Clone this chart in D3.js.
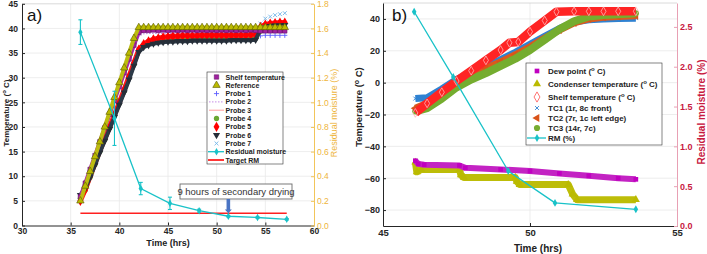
<!DOCTYPE html>
<html>
<head>
<meta charset="utf-8">
<script src="https://cdn.jsdelivr.net/npm/d3@7"></script>
<style>
  body { margin: 0; background: #fff; }
</style>
</head>
<body>
<div id="chart"></div>
<script>
// ---------------- data: panel a ----------------
const timeA = [36,36.5,37,37.5,38,38.5,39,39.5,40,40.5,41,41.5,42,42.5,43,43.5,44,44.5,45,45.5,46,46.5,47,47.5,48,48.5,49,49.5,50,50.5,51,51.5,52,52.5,53,53.5,54,54.5,55,55.5,56,56.5,57];
const shelfA = [5.8,8.6,11.4,14.2,17.0,19.8,22.6,25.4,28.2,31.0,33.8,36.6,39.2,39.6,
  39.6,39.7,39.6,39.7,39.6,39.7,39.6,39.7,39.6,39.7,39.6,39.7,39.6,39.7,39.6,39.7,39.6,39.7,39.6,39.7,39.6,39.7,39.6,
  39.5,39.5,39.5,39.5,39.5,39.5];
const referenceA = [5.0,8.0,11.0,14.0,17.0,20.0,23.0,26.0,29.0,32.0,35.0,38.0,40.2,
  40.2,40.2,40.2,40.2,40.2,40.2,40.2,40.2,40.2,40.2,
  40.2,40.2,40.2,40.2,40.2,40.2,40.2,40.2,40.2,40.2,
  40.2,40.2,40.2,40.2,40.2,40.2,40.2,40.2,40.2,40.2];
const probe1 = [5.5,7.5,10.0,12.5,15.0,17.5,20.0,22.5,25.0,27.7,30.4,33.1,35.8,
  36.8,37.3,37.6,37.8,38.0,38.1,
  38.2,38.2,38.2,38.2,38.2,38.2,38.2,38.2,38.2,38.2,38.2,38.2,38.2,38.2,38.2,38.2,38.2,38.2,
  38.5,38.6,38.6,38.6,38.6,38.6];
const probe2 = [5.6,8.2,11.0,13.8,16.6,19.3,22.0,24.8,27.6,30.4,33.2,36.0,38.5,38.9,
  39.0,39.0,39.0,39.0,39.0,39.0,39.0,39.0,39.0,39.0,39.0,39.0,39.0,39.0,39.0,39.0,39.0,39.0,39.0,39.0,39.0,39.0,39.0,
  39.2,39.2,39.2,39.2,39.2,39.2];
const probe3 = [5.2,7.5,10.2,12.8,15.4,17.8,20.2,22.7,25.2,27.8,30.5,33.2,35.9,
  37.0,37.6,38.0,38.3,38.5,38.6,
  38.7,38.7,38.7,38.7,38.7,38.7,38.7,38.7,38.7,38.7,38.7,38.7,38.7,38.7,38.7,38.7,38.7,38.7,
  40.0,40.4,40.4,40.4,40.4,40.4];
const probe4 = [5.5,7.2,9.8,12.4,15.0,17.4,19.8,22.3,24.8,27.3,30.0,32.7,35.5,
  36.5,37.0,37.4,37.6,37.8,37.9,
  38.0,38.0,38.0,38.0,38.0,38.0,38.0,38.0,38.0,38.0,38.0,38.0,38.0,38.0,38.0,38.0,38.0,38.0,
  39.5,39.9,40.0,40.1,40.1,40.2];
const probe5 = [5.0,7.3,10.0,12.6,15.2,17.6,20.0,22.5,25.0,27.6,30.3,33.0,35.7,
  36.8,37.4,37.8,38.0,38.2,38.3,
  38.4,38.4,38.5,38.5,38.5,38.5,
  38.6,38.6,38.6,38.6,38.6,38.6,38.6,38.6,38.6,38.6,
  38.7,38.7,
  40.3,40.8,41.0,41.1,41.2,41.2];
const probe6 = [6.2,7.6,9.8,12.3,14.8,17.2,19.6,22.0,24.5,27.0,29.6,32.4,35.2,
  36.2,36.6,36.9,37.1,37.2,37.3,
  37.3,37.4,37.4,37.4,
  37.5,37.5,37.5,37.5,37.5,37.5,37.5,37.5,
  37.6,37.6,37.6,37.6,37.6,37.7,
  39.8,40.3,40.5,40.6,40.6,40.7];
const probe7 = [5.4,7.6,10.1,12.7,15.3,17.7,20.1,22.6,25.1,27.7,30.4,33.1,35.8,
  36.9,37.4,37.7,37.9,38.0,38.1,
  38.2,38.2,38.2,38.2,38.2,38.2,38.2,38.2,38.2,38.2,38.2,38.2,38.2,38.2,38.2,38.2,38.2,38.2,
  41.0,42.0,42.4,42.7,42.9,43.1];

const rmTimeA = [36.0,39.5,42.2,45.2,48.2,51.2,54.2,57.2];
const rmA = [1.57,0.87,0.30,0.18,0.12,0.075,0.065,0.05];
const rmErrA = [0.10,0.22,0.05,0.05,0.012,0.006,0.006,0.006];
const targetTimeA = [36,57.2];
const targetRmA = [0.1,0.1];

const xTicksA = [30,35,40,45,50,55,60];
const tempTicksA = [0,5,10,15,20,25,30,35,40,45];
const rmTicksA = [0,0.2,0.4,0.6,0.8,1,1.2,1.4,1.6,1.8];

// ---------------- data: panel b ----------------
const dewTimeB = [46.1,46.2,46.4,47.6,47.8,49.0,50.0,51.0,52.0,53.0,53.6];
const dewB = [-49,-51,-51.5,-52,-53.5,-54.5,-55.5,-57,-58.5,-60,-60.7];
const condTimeB = [46.1,46.15,46.3,47.6,47.65,47.75,49.5,49.55,49.65,51.3,51.45,51.6,53.6];
const condB = [-50,-56,-54.5,-54.5,-58,-59.5,-59.5,-62,-64,-64,-70,-73.5,-73.5];
const shelfTimeB = [46.1,46.5,47.0,47.5,48.0,48.5,49.0,49.3,49.6,50.0,50.5,50.9,51.5,52.0,52.5,53.0,53.6];
const shelfB = [-19,-13,-6,1,7.5,14,20.5,25,25.5,32,39,44.5,44.8,44.8,44.8,44.8,44.8];
const tcTimeB = [46.1,46.5,47.0,47.5,48.0,48.5,49.0,49.5,50.0,50.5,51.0,51.5,52.0,52.5,53.0,53.6];
const tc1B = [-10,-9.5,-4,2,6,10,14.5,19,24,29,34,38,39.5,40,40.3,40.5];
const tc2B = [-16,-13,-6,1,5,9,13,17.5,22.5,28,33,37.5,40,41,41.5,42];
const tc3B = [-18,-16,-10,-3,2,6,10.5,15,20.5,27,33.5,38.5,41.5,42.5,43,43.5];
const rmTimeB = [46.06,47.39,49.26,50.85,53.6];
const rmB = [2.69,1.87,0.69,0.29,0.21];

const xTicksB = [45,50,55];
const tempTicksB = [-80,-60,-40,-20,0,20,40];
const rmTicksB = [0,0.5,1,1.5,2,2.5];

// ---------------- setup ----------------
const FONT = '"Liberation Sans", Arial, sans-serif';
const svg = d3.select("#chart").append("svg")
  .attr("width", 707).attr("height", 254)
  .style("font-family", FONT);

const plusSym = { draw(c, s) { const r = Math.sqrt(s) / 2; c.moveTo(-r, 0); c.lineTo(r, 0); c.moveTo(0, -r); c.lineTo(0, r); } };
const timesSym = { draw(c, s) { const r = Math.sqrt(s) * 0.38; c.moveTo(-r, -r); c.lineTo(r, r); c.moveTo(-r, r); c.lineTo(r, -r); } };
const SYM = { square: d3.symbolSquare, triangle: d3.symbolTriangle, diamond: d3.symbolDiamond, circle: d3.symbolCircle, plus: plusSym, times: timesSym };

function marker(g, x, y, m) {
  g.append("path")
    .attr("d", d3.symbol(SYM[m.shape], m.size)())
    .attr("transform", `translate(${x},${y}) rotate(${m.rotate || 0})`)
    .attr("fill", m.fill || "none")
    .attr("stroke", m.stroke || "none")
    .attr("stroke-width", m.sw || 0.8);
}

function supText(sel, label, supSize) {
  const parts = label.split("^o");
  parts.forEach((p, i) => {
    if (i > 0) sel.append("tspan").attr("dy", -3).attr("font-size", supSize).text("o");
    sel.append("tspan").attr("dy", i > 0 ? 3 : 0).text(p);
  });
}

function styleAxis(g, lineColor, textColor, size) {
  g.attr("font-family", FONT);
  g.select(".domain").attr("stroke", lineColor);
  g.selectAll(".tick line").attr("stroke", lineColor);
  g.selectAll(".tick text").attr("fill", textColor).attr("font-size", size).attr("font-weight", "bold");
}

// draw one series: a band (line) and markers on each value
function drawSeries(g, xs, ys, times, vals, s) {
  const pts = times.map((t, i) => [t, vals[i]]).filter(d => d[1] !== undefined);
  const line = d3.line().x(d => xs(d[0])).y(d => ys(d[1]));
  if (s.band) {
    g.append("path").datum(pts).attr("d", line)
      .attr("fill", "none").attr("stroke", s.band)
      .attr("stroke-width", s.width).attr("stroke-linejoin", "round")
      .attr("stroke-dasharray", s.dash || null);
  }
  if (s.marker) {
    const mg = g.append("g");
    pts.forEach(d => marker(mg, xs(d[0]), ys(d[1]), s.plotMarker || s.marker));
  }
}

// ================= panel a =================
const xA = d3.scaleLinear().domain([30, 60]).range([22, 314]);
const yA = d3.scaleLinear().domain([0, 45]).range([225.5, 3.8]);
const yA2 = d3.scaleLinear().domain([0, 1.8]).range([225.5, 3.8]);
const gA = svg.append("g");

// grid
gA.selectAll(".vgrid").data(xTicksA.slice(1, -1)).enter().append("line")
  .attr("x1", d => xA(d)).attr("x2", d => xA(d)).attr("y1", yA(45)).attr("y2", yA(0))
  .attr("stroke", "#e8e8e8").attr("stroke-width", 0.8);
gA.selectAll(".hgrid").data(tempTicksA.slice(1, -1)).enter().append("line")
  .attr("x1", xA(30)).attr("x2", xA(60)).attr("y1", d => yA(d)).attr("y2", d => yA(d))
  .attr("stroke", "#e8e8e8").attr("stroke-width", 0.8);
gA.append("line").attr("x1", xA(30)).attr("x2", xA(60)).attr("y1", yA(45)).attr("y2", yA(45))
  .attr("stroke", "#d0d0d0").attr("stroke-width", 0.8);

const seriesA = [
  { name: "Shelf temperature", vals: shelfA, band: "#a52aa5", width: 4, z: 6,
    marker: { shape: "square", size: 20, fill: "#a020a0", stroke: "#5c125c", sw: 0.5 } },
  { name: "Reference", vals: referenceA, band: "#bcbc10", width: 4, z: 7,
    marker: { shape: "triangle", size: 24, fill: "#baba00", stroke: "#5a5a00", sw: 0.6 } },
  { name: "Probe 1", vals: probe1, band: null, z: 1,
    marker: { shape: "plus", size: 26, stroke: "#5c5cff", sw: 0.9 } },
  { name: "Probe 2", vals: probe2, band: "#c58ce6", width: 1.2, dash: "1.5,1.5", z: 2, line: true },
  { name: "Probe 3", vals: probe3, band: "#ff9d9d", width: 1.2, z: 2, line: true },
  { name: "Probe 4", vals: probe4, band: "#6aa832", width: 4, z: 3,
    marker: { shape: "circle", size: 22, fill: "#6aa832" } },
  { name: "Probe 5", vals: probe5, band: "#ff1a1a", width: 5, z: 4,
    marker: { shape: "diamond", size: 30, fill: "#ff0000" } },
  { name: "Probe 6", vals: probe6, band: "#2c3a48", width: 4, z: 5,
    marker: { shape: "triangle", size: 22, fill: "#262e38", rotate: 180 } },
  { name: "Probe 7", vals: probe7, band: null, z: 1,
    marker: { shape: "times", size: 26, stroke: "#72b5e8", sw: 0.9 } }
];

const plotA = gA.append("g");
seriesA.slice().sort((a, b) => a.z - b.z).forEach(s => drawSeries(plotA, xA, yA, timeA, s.vals, s));

// target RM
plotA.append("path").datum(targetTimeA.map((t, i) => [t, targetRmA[i]]))
  .attr("d", d3.line().x(d => xA(d[0])).y(d => yA2(d[1])))
  .attr("stroke", "#ff2020").attr("stroke-width", 1.6).attr("fill", "none");

// residual moisture with error bars
const rmColor = "#19c2c8";
const rmPts = rmTimeA.map((t, i) => ({ t, v: rmA[i], e: rmErrA[i] }));
plotA.append("path").datum(rmPts)
  .attr("d", d3.line().x(d => xA(d.t)).y(d => yA2(d.v)))
  .attr("stroke", rmColor).attr("stroke-width", 1.3).attr("fill", "none");
const eb = plotA.selectAll(".eb").data(rmPts).enter().append("g");
eb.append("line").attr("x1", d => xA(d.t)).attr("x2", d => xA(d.t))
  .attr("y1", d => yA2(d.v - d.e)).attr("y2", d => yA2(d.v + d.e))
  .attr("stroke", rmColor).attr("stroke-width", 1.1);
eb.append("line").attr("x1", d => xA(d.t) - 2).attr("x2", d => xA(d.t) + 2)
  .attr("y1", d => yA2(d.v - d.e)).attr("y2", d => yA2(d.v - d.e))
  .attr("stroke", rmColor).attr("stroke-width", 1.1);
eb.append("line").attr("x1", d => xA(d.t) - 2).attr("x2", d => xA(d.t) + 2)
  .attr("y1", d => yA2(d.v + d.e)).attr("y2", d => yA2(d.v + d.e))
  .attr("stroke", rmColor).attr("stroke-width", 1.1);
rmPts.forEach(d => marker(plotA, xA(d.t), yA2(d.v), { shape: "diamond", size: 16, fill: rmColor }));

// axes
const axLA = gA.append("g").attr("transform", `translate(${xA(30)},0)`)
  .call(d3.axisLeft(yA).tickValues(tempTicksA).tickSizeInner(-3).tickSizeOuter(0).tickPadding(4));
styleAxis(axLA, "#262626", "#262626", 8.5);
const axBA = gA.append("g").attr("transform", `translate(0,${yA(0)})`)
  .call(d3.axisBottom(xA).tickValues(xTicksA).tickSizeInner(-3).tickSizeOuter(0).tickPadding(2));
styleAxis(axBA, "#262626", "#262626", 8.5);
const axRA = gA.append("g").attr("transform", `translate(${xA(60)},0)`)
  .call(d3.axisRight(yA2).tickValues(rmTicksA).tickSizeInner(-3).tickSizeOuter(0).tickPadding(3));
styleAxis(axRA, "#f2c55a", "#eeb53c", 8.5);
axRA.selectAll(".tick text").attr("font-weight", "normal");

// titles
gA.append("text").attr("x", 27).attr("y", 21).attr("font-size", 17).attr("fill", "#111").text("a)");
supText(gA.append("text").attr("transform", "translate(8.5,113) rotate(-90)")
  .attr("text-anchor", "middle").attr("font-size", 8).attr("font-weight", "bold").attr("fill", "#222"),
  "Temperature (^o C)", 6);
gA.append("text").attr("transform", "translate(337,113) rotate(-90)")
  .attr("text-anchor", "middle").attr("font-size", 9).attr("fill", "#eeb53c")
  .text("Residual moisture (%)");
gA.append("text").attr("x", 168).attr("y", 246).attr("text-anchor", "middle")
  .attr("font-size", 9).attr("font-weight", "bold").attr("fill", "#222").text("Time (hrs)");

// annotation
gA.append("rect").attr("x", 180).attr("y", 184).attr("width", 112).attr("height", 15)
  .attr("fill", "#fff").attr("stroke", "#6a6a6a").attr("stroke-width", 0.9);
gA.append("text").attr("x", 236).attr("y", 195).attr("text-anchor", "middle")
  .attr("font-size", 9.5).attr("fill", "#333").text("9 hours of secondary drying");
const ax = xA(51.2);
gA.append("path")
  .attr("d", `M${ax - 1.8},199 L${ax + 1.8},199 L${ax + 1.8},${yA2(0.13)} L${ax + 3.5},${yA2(0.13)} L${ax},${yA2(0.1)} L${ax - 3.5},${yA2(0.13)} L${ax - 1.8},${yA2(0.13)} Z`)
  .attr("fill", "#4a74c4");

// legend a
const legA = gA.append("g");
legA.append("rect").attr("x", 207).attr("y", 72).attr("width", 76).attr("height", 92)
  .attr("fill", "#fff").attr("stroke", "#333").attr("stroke-width", 0.6);
const legItemsA = seriesA.concat([
  { name: "Residual moisture", rm: true },
  { name: "Target RM", target: true }
]);
legItemsA.forEach((s, i) => {
  const y = 77 + i * 8.3;
  if (s.rm) {
    legA.append("line").attr("x1", 208).attr("x2", 224).attr("y1", y).attr("y2", y)
      .attr("stroke", rmColor).attr("stroke-width", 1.3);
    marker(legA, 216.5, y, { shape: "diamond", size: 16, fill: rmColor });
  } else if (s.target) {
    legA.append("line").attr("x1", 208).attr("x2", 224).attr("y1", y).attr("y2", y)
      .attr("stroke", "#ff2020").attr("stroke-width", 1.8);
  } else if (s.line) {
    legA.append("line").attr("x1", 209).attr("x2", 224).attr("y1", y).attr("y2", y)
      .attr("stroke", s.band).attr("stroke-width", 1).attr("stroke-dasharray", s.dash || null);
  } else {
    marker(legA, 216.5, y, s.marker);
  }
  legA.append("text").attr("x", 225.5).attr("y", y + 2.5)
    .attr("font-size", 7).attr("font-weight", "bold").attr("fill", "#222").text(s.name);
});

// ================= panel b =================
const xB = d3.scaleLinear().domain([45, 55]).range([383, 677]);
const yB = d3.scaleLinear().domain([-90, 50]).range([226, 3]);
const yB2 = d3.scaleLinear().domain([0, 2.8]).range([226, 3]);
const gB = svg.append("g");

gB.selectAll(".vgrid").data([50]).enter().append("line")
  .attr("x1", d => xB(d)).attr("x2", d => xB(d)).attr("y1", yB(50)).attr("y2", yB(-90))
  .attr("stroke", "#e8e8e8").attr("stroke-width", 0.8);
gB.selectAll(".hgrid").data(tempTicksB).enter().append("line")
  .attr("x1", xB(45)).attr("x2", xB(55)).attr("y1", d => yB(d)).attr("y2", d => yB(d))
  .attr("stroke", "#e8e8e8").attr("stroke-width", 0.8);
gB.append("line").attr("x1", xB(45)).attr("x2", xB(55)).attr("y1", yB(50)).attr("y2", yB(50))
  .attr("stroke", "#d0d0d0").attr("stroke-width", 0.8);

const seriesB = [
  { name: "Dew point (^o C)", t: dewTimeB, vals: dewB, band: "#c323c3", width: 6, z: 6,
    marker: { shape: "square", size: 22, fill: "#c000c0" } },
  { name: "Condenser temperature (^o C)", t: condTimeB, vals: condB, band: "#bdbd08", width: 7, z: 5,
    marker: { shape: "triangle", size: 28, fill: "#baba00" } },
  { name: "Shelf temperature (^o C)", t: shelfTimeB, vals: shelfB, band: "#ff2424", width: 8.5, z: 4,
    marker: { shape: "diamond", size: 30, fill: "#fff", stroke: "#ff5050", sw: 0.8 },
    plotMarker: { shape: "diamond", size: 22, fill: "none", stroke: "#ffb4b4", sw: 0.8 } },
  { name: "TC1 (1r, 8c front)", t: tcTimeB, vals: tc1B, band: "#2f82d2", width: 7, z: 1,
    marker: { shape: "times", size: 26, stroke: "#2f82d2", sw: 0.9 } },
  { name: "TC2 (7r, 1c left edge)", t: tcTimeB, vals: tc2B, band: "#dc5a1e", width: 7, z: 2,
    marker: { shape: "triangle", size: 28, fill: "#d95319", rotate: -90 } },
  { name: "TC3 (14r, 7c)", t: tcTimeB, vals: tc3B, band: "#74ad2f", width: 8, z: 3,
    marker: { shape: "circle", size: 30, fill: "#77ac30" } }
];

const plotB = gB.append("g");
seriesB.slice().sort((a, b) => a.z - b.z).forEach(s => drawSeries(plotB, xB, yB, s.t, s.vals, s));
drawSeries(plotB, xB, yB2, rmTimeB, rmB,
  { band: rmColor, width: 1.3, marker: { shape: "diamond", size: 18, fill: rmColor } });

const crimson = "#c8193f";
const axLB = gB.append("g").attr("transform", `translate(${xB(45)},0)`)
  .call(d3.axisLeft(yB).tickValues(tempTicksB).tickSizeInner(-3).tickSizeOuter(0).tickPadding(3));
styleAxis(axLB, "#262626", "#262626", 9);
const axBB = gB.append("g").attr("transform", `translate(0,${yB(-90)})`)
  .call(d3.axisBottom(xB).tickValues(xTicksB).tickSizeInner(-3).tickSizeOuter(0).tickPadding(3));
styleAxis(axBB, "#262626", "#262626", 9.5);
const axRB = gB.append("g").attr("transform", `translate(${xB(55)},0)`)
  .call(d3.axisRight(yB2).tickValues(rmTicksB).tickSizeInner(-3).tickSizeOuter(0).tickPadding(3));
styleAxis(axRB, "#e8a0b4", crimson, 9);

gB.append("text").attr("x", 392).attr("y", 21).attr("font-size", 17).attr("fill", "#111").text("b)");
supText(gB.append("text").attr("transform", "translate(362,107) rotate(-90)")
  .attr("text-anchor", "middle").attr("font-size", 9.5).attr("font-weight", "bold").attr("fill", "#222"),
  "Temperature (^o C)", 7);
gB.append("text").attr("transform", "translate(705,112) rotate(-90)")
  .attr("text-anchor", "middle").attr("font-size", 10).attr("font-weight", "bold").attr("fill", crimson)
  .text("Residual moisture (%)");
gB.append("text").attr("x", 538).attr("y", 252).attr("text-anchor", "middle")
  .attr("font-size", 10).attr("font-weight", "bold").attr("fill", "#222").text("Time (hrs)");

// legend b
const legB = gB.append("g");
legB.append("rect").attr("x", 526).attr("y", 63).attr("width", 136).attr("height", 82)
  .attr("fill", "#fff").attr("stroke", "#333").attr("stroke-width", 0.6);
const legRowsB = [71, 84, 97, 108, 118, 128, 138];
seriesB.forEach((s, i) => {
  const y = legRowsB[i];
  marker(legB, 537, y, s.marker);
  supText(legB.append("text").attr("x", 548).attr("y", y + 3)
    .attr("font-size", 8).attr("font-weight", "bold").attr("fill", "#222"), s.name, 6);
});
legB.append("line").attr("x1", 527).attr("x2", 546).attr("y1", legRowsB[6]).attr("y2", legRowsB[6])
  .attr("stroke", rmColor).attr("stroke-width", 1.3);
marker(legB, 537, legRowsB[6], { shape: "diamond", size: 18, fill: rmColor });
legB.append("text").attr("x", 548).attr("y", legRowsB[6] + 3)
  .attr("font-size", 8).attr("font-weight", "bold").attr("fill", "#222").text("RM (%)");
</script>
</body>
</html>
